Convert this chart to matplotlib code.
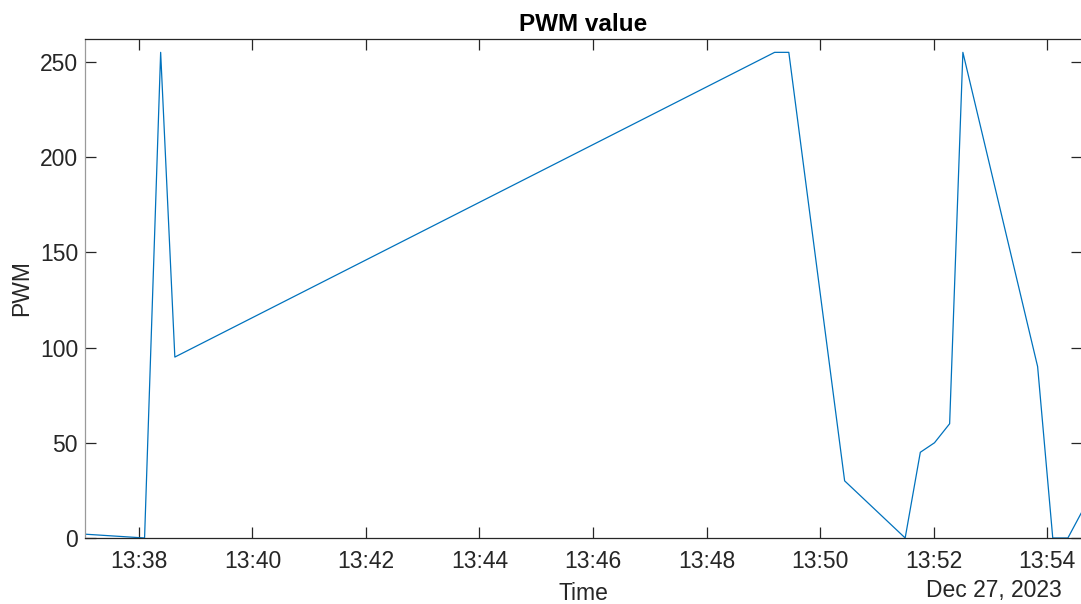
import matplotlib
matplotlib.use("Agg")
import matplotlib.pyplot as plt
import matplotlib.dates as mdates
import pandas as pd

plt.rcParams["font.family"] = ["Liberation Sans", "DejaVu Sans"]

# PWM log (Dec 27, 2023)
times = ["13:37:03", "13:38:06", "13:38:23", "13:38:38", "13:49:12", "13:49:27",
         "13:50:26", "13:51:30", "13:51:46", "13:52:01", "13:52:17", "13:52:31",
         "13:53:50", "13:54:06", "13:54:22", "13:54:36"]
pwm = [2, 0, 255, 95, 255, 255, 30, 0, 45, 50, 60, 255, 90, 0, 0, 13]

t = pd.to_datetime(["2023-12-27 " + s for s in times])

fig = plt.figure(figsize=(10.81, 6.04), dpi=100)
ax = fig.add_axes([0.0786, 0.1093, 0.9224, 0.8261])

ax.plot(t, pwm, color="#0072BD", lw=0.9)

ax.set_xlim(t[0], pd.Timestamp("2023-12-27 13:54:37"))
ax.set_ylim(0, 262)
ax.set_yticks([0, 50, 100, 150, 200, 250])
ax.xaxis.set_major_locator(mdates.MinuteLocator(byminute=range(0, 60, 2)))
ax.xaxis.set_major_formatter(mdates.DateFormatter("%H:%M"))

dark = "#262626"
for s in ("top", "bottom", "right"):
    ax.spines[s].set_color(dark)
ax.spines["left"].set_color("#9a9a9a")
for s in ax.spines.values():
    s.set_linewidth(0.9)
ax.tick_params(direction="in", length=7.7, width=0.9, color=dark,
               labelcolor=dark, labelsize=16.5, top=True, right=True)
ax.tick_params(axis="x", pad=9)
ax.tick_params(axis="y", pad=5)

ax.set_title("PWM value", fontsize=17.5, fontweight="bold", pad=6)
ax.set_xlabel("Time", fontsize=16.5, color=dark, labelpad=6)
ax.set_ylabel("PWM", fontsize=16.5, color=dark, labelpad=5)
fig.text(1062 / 1081, 1 - 591 / 604, "Dec 27, 2023", ha="right", va="center",
         fontsize=16.5, color=dark)

fig.savefig("out.png", dpi=100)
